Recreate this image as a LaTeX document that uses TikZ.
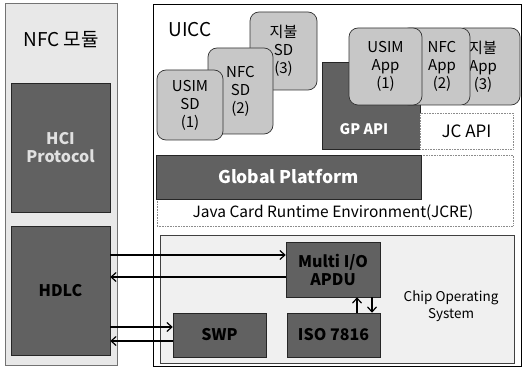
\documentclass[tikz,border=0pt]{standalone}
\usepackage{fontspec}
\setmainfont{Noto Sans CJK KR}
\usetikzlibrary{arrows.meta}
\begin{document}
\begin{tikzpicture}[x=1pt, y=-1pt,
  panel/.style={draw=black!55, fill=black!9, line width=0.5pt},
  darkbox/.style={draw=black!85, fill=black!62, line width=0.5pt, align=center,
    font=\fontsize{16}{18}\selectfont\bfseries},
  sdbox/.style={draw=black!80, fill=black!22, rounded corners=9pt, line width=0.7pt,
    align=center, font=\fontsize{15}{18}\selectfont},
  dotbox/.style={draw=black!45, densely dotted, fill=white, line width=0.6pt},
  link/.style={-{Straight Barb[length=5pt,width=9pt]}, line width=1.2pt}]
  \useasboundingbox (0,0) rectangle (524,374);
  % NFC module
  \node[panel, minimum width=112pt, minimum height=362pt] (nfc) at (61,184) {};
  \node[font=\fontsize{19}{20}\selectfont] (nfclbl) at (61,40) {NFC 모듈};
  \node[darkbox, text=black!12, minimum width=99pt, minimum height=129pt] (hci) at (60.5,147.5) {HCI\\Protocol};
  \node[darkbox, minimum width=99pt, minimum height=129pt] (hdlc) at (60.5,290.5) {HDLC};
  % UICC
  \node[draw, fill=white, line width=0.8pt, minimum width=368pt, minimum height=362pt] (uicc) at (337,185) {};
  \node[font=\fontsize{19}{20}\selectfont] (uicclbl) at (190,30) {UICC};
  \node[sdbox, minimum width=67pt, minimum height=78pt] (sd3) at (283.5,51) {지불\\SD\\(3)};
  \node[sdbox, minimum width=65pt, minimum height=86pt] (sd2) at (240.5,91) {NFC\\SD\\(2)};
  \node[sdbox, minimum width=66pt, minimum height=70pt] (sd1) at (190,105) {USIM\\SD\\(1)};
  \node[darkbox, minimum width=98pt, minimum height=87pt] (gpapi) at (371,105.5) {};
  \node[text=white, font=\fontsize{14.5}{15}\selectfont\bfseries] (gplbl) at (364,129) {GP API};
  \node[dotbox, minimum width=93pt, minimum height=36pt, font=\fontsize{17}{18}\selectfont] (jcapi) at (466.5,131) {JC API};
  \node[sdbox, minimum width=65pt, minimum height=77pt] (app3) at (487.5,66.5) {\hspace*{-9pt}지불\\\hspace*{-9pt}App\\\hspace*{-9pt}(3)};
  \node[sdbox, minimum width=70pt, minimum height=77pt] (app2) at (435,66.5) {\hspace*{14pt}NFC\\\hspace*{14pt}App\\\hspace*{14pt}(2)};
  \node[sdbox, minimum width=73pt, minimum height=77pt] (app1) at (385.5,66.5) {USIM\\App\\(1)};
  % JCRE and Global Platform
  \node[dotbox, minimum width=356pt, minimum height=71pt] (jcre) at (335,190.5) {};
  \node[darkbox, text=white, minimum width=265pt, minimum height=44pt, font=\fontsize{17.5}{19}\selectfont\bfseries] (gp) at (288.5,177) {Global Platform};
  \node[font=\fontsize{15.5}{17}\selectfont] (jcrelbl) at (333,213) {Java Card Runtime Environment(JCRE)};
  % Chip OS
  \node[panel, draw=black!75, fill=black!6, minimum width=354pt, minimum height=128pt] (cos) at (337,299) {};
  \node[align=center, font=\fontsize{13.5}{17}\selectfont] (coslbl) at (451,306) {Chip Operating\\System};
  \node[darkbox, minimum width=94pt, minimum height=55pt] (mio) at (333,269.5) {Multi I/O\\APDU};
  \node[darkbox, minimum width=93pt, minimum height=44pt] (swp) at (219.5,335) {SWP};
  \node[darkbox, minimum width=93pt, minimum height=44pt] (iso) at (333.5,335) {ISO 7816};
  % connectors
  \coordinate (r1) at (0,255);
  \coordinate (r2) at (0,277);
  \coordinate (r3) at (0,327);
  \coordinate (r4) at (0,341);
  \coordinate (c1) at (357,0);
  \coordinate (c2) at (372,0);
  \draw[link] (hdlc.east |- r1) -- (mio.west |- r1);
  \draw[link] (mio.west |- r2) -- (hdlc.east |- r2);
  \draw[link] (hdlc.east |- r3) -- (swp.west |- r3);
  \draw[link] (swp.west |- r4) -- (hdlc.east |- r4);
  \draw[link] (iso.north -| c1) -- (mio.south -| c1);
  \draw[link] (mio.south -| c2) -- (iso.north -| c2);
\end{tikzpicture}
\end{document}
